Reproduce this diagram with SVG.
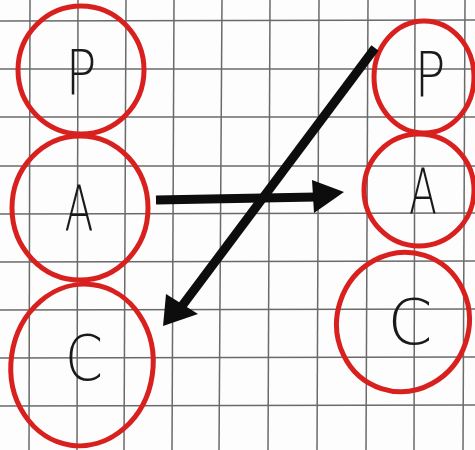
<svg xmlns="http://www.w3.org/2000/svg" width="475" height="450" viewBox="0 0 475 450">
  <defs>
    <style>
      .grid line { stroke: #6a6a6a; stroke-width: 1.5; }
      .ring { fill: none; stroke: #d8211f; stroke-width: 5; }
      .lbl { font-family: "DejaVu Sans", "Liberation Sans", sans-serif; font-weight: 200; font-size: 62px; fill: #1a1a1a; text-anchor: middle; }
      .shaft { stroke: #0d0d0d; stroke-width: 9; stroke-linecap: butt; fill: none; }
      .head { fill: #0d0d0d; }
    </style>
  </defs>
  <rect width="475" height="450" fill="#fdfdfd"/>
  <g class="grid" id="grid">
    <line x1="30" y1="0" x2="29" y2="450"/>
    <line x1="78" y1="0" x2="77" y2="450"/>
    <line x1="126" y1="0" x2="124" y2="450"/>
    <line x1="174" y1="0" x2="172" y2="450"/>
    <line x1="222" y1="0" x2="219" y2="450"/>
    <line x1="270" y1="0" x2="268" y2="450"/>
    <line x1="319" y1="0" x2="317" y2="450"/>
    <line x1="368" y1="0" x2="366" y2="450"/>
    <line x1="415" y1="0" x2="414" y2="450"/>
    <line x1="465" y1="0" x2="463" y2="450"/>
    <line x1="0" y1="21" x2="475" y2="20"/>
    <line x1="0" y1="69" x2="475" y2="69"/>
    <line x1="0" y1="117" x2="475" y2="117"/>
    <line x1="0" y1="166" x2="475" y2="166"/>
    <line x1="0" y1="214" x2="475" y2="213"/>
    <line x1="0" y1="262" x2="475" y2="261"/>
    <line x1="0" y1="310" x2="475" y2="309"/>
    <line x1="0" y1="358" x2="475" y2="357"/>
    <line x1="0" y1="406" x2="475" y2="405"/>
  </g>
  <g id="left-P">
    <ellipse class="ring" cx="81" cy="70" rx="63" ry="64"/>
    <text class="lbl" x="81" y="95" textLength="31" lengthAdjust="spacingAndGlyphs">P</text>
  </g>
  <g id="left-A">
    <ellipse class="ring" cx="80" cy="208" rx="68" ry="72"/>
    <text class="lbl" x="79" y="230" textLength="29" lengthAdjust="spacingAndGlyphs">A</text>
  </g>
  <g id="left-C">
    <ellipse class="ring" cx="82" cy="365" rx="71" ry="81" transform="rotate(8 82 365)"/>
    <text class="lbl" x="84" y="380" textLength="38" lengthAdjust="spacingAndGlyphs">C</text>
  </g>
  <g id="right-P">
    <ellipse class="ring" cx="424" cy="77" rx="50" ry="56"/>
    <text class="lbl" x="430" y="97" textLength="31" lengthAdjust="spacingAndGlyphs">P</text>
  </g>
  <g id="right-A">
    <ellipse class="ring" cx="419" cy="190" rx="55" ry="56"/>
    <text class="lbl" x="423" y="213" textLength="28" lengthAdjust="spacingAndGlyphs">A</text>
  </g>
  <g id="right-C">
    <ellipse class="ring" cx="403" cy="322" rx="66" ry="70" transform="rotate(18 403 322)"/>
    <text class="lbl" x="410" y="344" textLength="45" lengthAdjust="spacingAndGlyphs">C</text>
  </g>
  <g id="connectors">
    <line class="shaft" x1="156" y1="200" x2="316" y2="197"/>
    <polygon class="head" points="344,192 312,180 314,213"/>
    <line class="shaft" x1="375" y1="48" x2="182" y2="306"/>
    <polygon class="head" points="163,326 166,294 198,314"/>
  </g>
</svg>
